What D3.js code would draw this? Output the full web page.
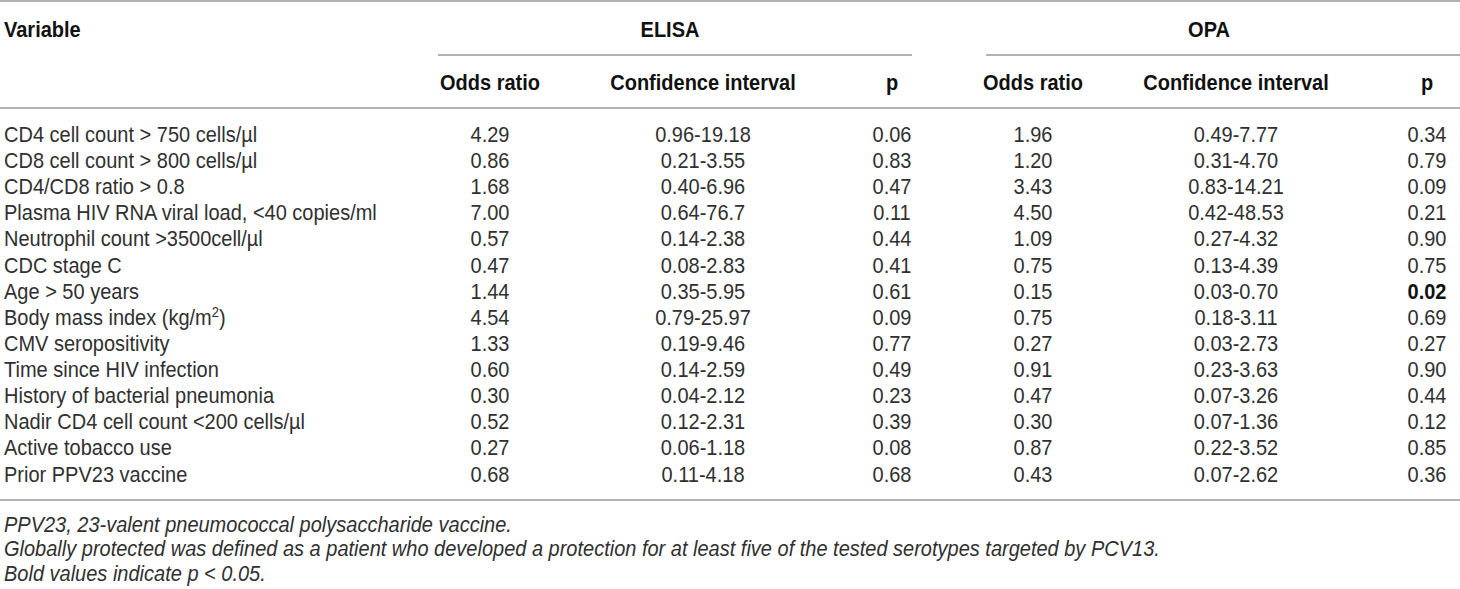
<!DOCTYPE html>
<html lang="en">
<head>
    <meta charset="UTF-8">
    <title>Odds ratios ELISA / OPA</title>
    <script src="https://d3js.org/d3.v7.min.js"></script>
    <style>
        body {
            margin: 0;
            background: #fff;
            font-family: "Liberation Sans", Arial, sans-serif;
        }

        .head {
            font-weight: bold;
            fill: #111;
        }

        .cell {
            fill: #303030;
        }

        .note {
            font-style: italic;
            fill: #303030;
        }

        .rule {
            stroke: #9a9a9a;
            stroke-width: 1.5;
        }
    </style>
</head>
<body>
    <div id="chart"></div>
    <script>
        const variables = [
            "CD4 cell count > 750 cells/µl",
            "CD8 cell count > 800 cells/µl",
            "CD4/CD8 ratio > 0.8",
            "Plasma HIV RNA viral load, <40 copies/ml",
            "Neutrophil count >3500cell/µl",
            "CDC stage C",
            "Age > 50 years",
            "Body mass index (kg/m2)",
            "CMV seropositivity",
            "Time since HIV infection",
            "History of bacterial pneumonia",
            "Nadir CD4 cell count <200 cells/µl",
            "Active tobacco use",
            "Prior PPV23 vaccine"
        ];
        const elisaOR = ["4.29", "0.86", "1.68", "7.00", "0.57", "0.47", "1.44", "4.54", "1.33", "0.60", "0.30", "0.52", "0.27", "0.68"];
        const elisaCI = ["0.96-19.18", "0.21-3.55", "0.40-6.96", "0.64-76.7", "0.14-2.38", "0.08-2.83", "0.35-5.95",
            "0.79-25.97", "0.19-9.46", "0.14-2.59", "0.04-2.12", "0.12-2.31", "0.06-1.18", "0.11-4.18"];
        const elisaP = ["0.06", "0.83", "0.47", "0.11", "0.44", "0.41", "0.61", "0.09", "0.77", "0.49", "0.23", "0.39", "0.08", "0.68"];
        const opaOR = ["1.96", "1.20", "3.43", "4.50", "1.09", "0.75", "0.15", "0.75", "0.27", "0.91", "0.47", "0.30", "0.87", "0.43"];
        const opaCI = ["0.49-7.77", "0.31-4.70", "0.83-14.21", "0.42-48.53", "0.27-4.32", "0.13-4.39", "0.03-0.70",
            "0.18-3.11", "0.03-2.73", "0.23-3.63", "0.07-3.26", "0.07-1.36", "0.22-3.52", "0.07-2.62"];
        const opaP = ["0.34", "0.79", "0.09", "0.21", "0.90", "0.75", "0.02", "0.69", "0.27", "0.90", "0.44", "0.12", "0.85", "0.36"];

        const groups = ["ELISA", "OPA"];
        const subHeads = ["Odds ratio", "Confidence interval", "p"];
        const footnotes = [
            "PPV23, 23-valent pneumococcal polysaccharide vaccine.",
            "Globally protected was defined as a patient who developed a protection for at least five of the tested serotypes targeted by PCV13.",
            "Bold values indicate p < 0.05."
        ];

        const W = 1460, H = 589;
        const fontSize = 20;
        const stretch = 1.1; // glyphs in the picture are a bit taller than wide

        const svg = d3.select("#chart").append("svg")
            .attr("width", W)
            .attr("height", H)
            .style("display", "block");

        // place a text at (x, y) with the vertical stretch
        const place = (x, y) => `translate(${x},${y}) scale(1,${stretch})`;

        // column centres
        const colKeys = ["elisaOR", "elisaCI", "elisaP", "opaOR", "opaCI", "opaP"];
        const colX = d3.scaleOrdinal()
            .domain(colKeys)
            .range([490, 703, 892, 1033, 1236, 1427]);

        // group spans (under-lines)
        const groupSpan = d3.scaleOrdinal()
            .domain(groups)
            .range([[438, 912], [986, 1460]]);
        const groupCentre = d3.scaleOrdinal()
            .domain(groups)
            .range([670, 1209]);

        const hY = { topLine: 1, group: 29, groupLine: 55, sub: 82, headLine: 108, bottomLine: 500 };

        // rows: one spare half band above and below the body
        const y = d3.scaleBand()
            .domain(d3.range(variables.length))
            .range([hY.headLine, hY.bottomLine])
            .paddingOuter(0.5)
            .paddingInner(0);
        const rowY = i => y(i) + y.bandwidth() / 2;

        // rules
        svg.append("line").attr("class", "rule")
            .attr("x1", 0).attr("x2", W)
            .attr("y1", hY.topLine).attr("y2", hY.topLine)
            .attr("stroke-width", 2);
        svg.append("line").attr("class", "rule")
            .attr("x1", 0).attr("x2", W)
            .attr("y1", hY.headLine).attr("y2", hY.headLine);
        svg.append("line").attr("class", "rule")
            .attr("x1", 0).attr("x2", W)
            .attr("y1", hY.bottomLine).attr("y2", hY.bottomLine);

        svg.selectAll(".group-line")
            .data(groups)
            .join("line")
            .attr("class", "rule group-line")
            .attr("x1", d => groupSpan(d)[0])
            .attr("x2", d => groupSpan(d)[1])
            .attr("y1", hY.groupLine)
            .attr("y2", hY.groupLine);

        // header texts
        svg.append("text")
            .attr("class", "head")
            .attr("transform", place(4, hY.group))
            .attr("dy", "0.35em")
            .attr("font-size", fontSize)
            .text("Variable");

        svg.selectAll(".group")
            .data(groups)
            .join("text")
            .attr("class", "head group")
            .attr("transform", d => place(groupCentre(d), hY.group))
            .attr("dy", "0.35em")
            .attr("text-anchor", "middle")
            .attr("font-size", fontSize)
            .text(d => d);

        svg.selectAll(".sub")
            .data(colKeys)
            .join("text")
            .attr("class", "head sub")
            .attr("transform", d => place(colX(d), hY.sub))
            .attr("dy", "0.35em")
            .attr("text-anchor", "middle")
            .attr("font-size", fontSize)
            .text((d, i) => subHeads[i % 3]);

        // body
        const cols = { elisaOR, elisaCI, elisaP, opaOR, opaCI, opaP };

        const vtext = svg.selectAll(".var")
            .data(variables)
            .join("text")
            .attr("class", "cell var")
            .attr("transform", (d, i) => place(4, rowY(i)))
            .attr("dy", "0.35em")
            .attr("font-size", fontSize);

        vtext.each(function(d) {
            const t = d3.select(this);
            if (d.endsWith("m2)")) {
                t.append("tspan").text(d.slice(0, -2));
                t.append("tspan")
                    .attr("font-size", fontSize * 0.65)
                    .attr("dy", "-0.55em")
                    .text("2");
                t.append("tspan")
                    .attr("dy", "0.36em")
                    .text(")");
            } else {
                t.text(d);
            }
        });

        colKeys.forEach(k => {
            const isP = k.endsWith("P");
            svg.selectAll(".c-" + k)
                .data(cols[k])
                .join("text")
                .attr("class", "cell c-" + k)
                .attr("transform", (d, i) => place(colX(k), rowY(i)))
                .attr("dy", "0.35em")
                .attr("text-anchor", "middle")
                .attr("font-size", fontSize)
                .attr("font-weight", d => (isP && +d < 0.05) ? "bold" : null)
                .style("fill", d => (isP && +d < 0.05) ? "#111" : null)
                .text(d => d);
        });

        // footnotes
        svg.selectAll(".note")
            .data(footnotes)
            .join("text")
            .attr("class", "note")
            .attr("transform", (d, i) => place(4, 524 + i * 24.5))
            .attr("dy", "0.35em")
            .attr("font-size", fontSize)
            .text(d => d);
    </script>
</body>
</html>
